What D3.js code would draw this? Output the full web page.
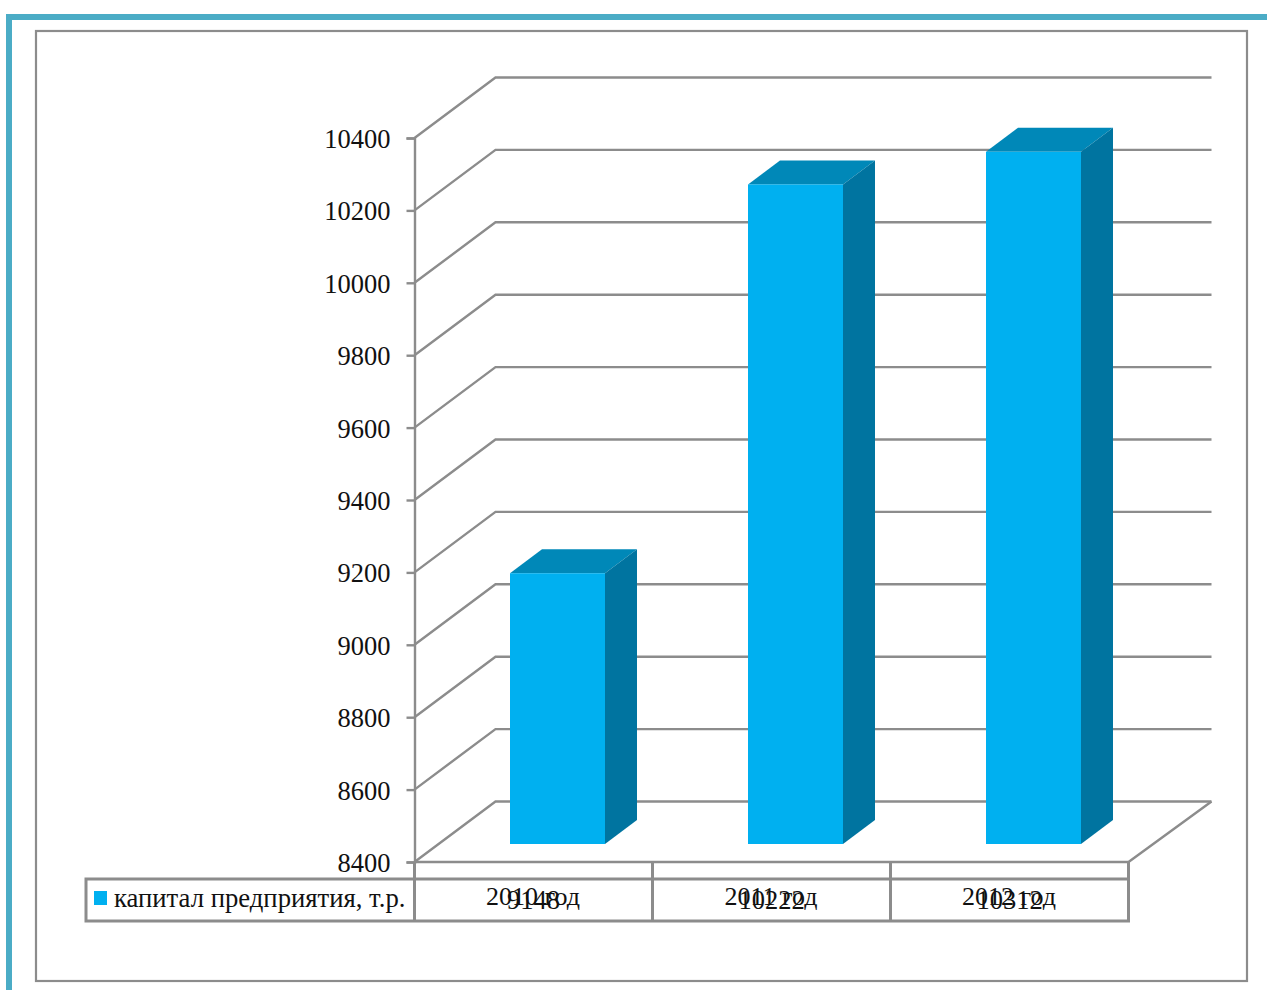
<!DOCTYPE html>
<html lang="ru">
<head>
<meta charset="utf-8">
<title>Капитал предприятия</title>
<script src="https://cdn.jsdelivr.net/npm/d3@7/dist/d3.min.js"></script>
<style>
  html, body { margin: 0; padding: 0; background: #fff; overflow: hidden; }
  svg { display: block; }
  text { font-family: "Liberation Serif", "Times New Roman", serif; fill: #111; }
</style>
</head>
<body>
<svg id="chart" width="1267" height="990"></svg>
<script>
// Chart content
const categories = ["2010 год", "2011 год", "2012 год"];
const capitalValues = [9148, 10222, 10312];
const valueTicks = [8400, 8600, 8800, 9000, 9200, 9400, 9600, 9800, 10000, 10200, 10400];
const seriesName = "капитал предприятия, т.р.";

// Layout and palette
const W = 1267, H = 990;
const plot = { left: 414.5, right: 1128.5, top: 138, bottom: 862 };
const wallDepth = { dx: 81, dy: -60.5 };   // offset of the back wall from the front plane
const barInset = { dx: 24, dy: -18 };      // bar front face relative to the front plane
const barDepth = { dx: 32, dy: -24 };      // extrusion of each bar
const barWidth = 95;
const table = { left: 86, top: 879, bottom: 921 };
const LINE = "#8c8c8c";
const FRONT = "#00b0f0", TOP = "#0088b8", SIDE = "#0074a0";

const svg = d3.select("#chart");
const y = d3.scaleLinear().domain([8400, 10400]).range([plot.bottom, plot.top]);
const x = d3.scaleBand().domain(categories).range([plot.left, plot.right]);
const poly = pts => pts.map(p => p.join(",")).join(" ");

// Page frame and chart border
svg.append("path")
  .attr("d", `M${W},17 H9 V${H}`)
  .attr("fill", "none").attr("stroke", "#4bacc6").attr("stroke-width", 6);
svg.append("rect")
  .attr("x", 36).attr("y", 31).attr("width", 1211).attr("height", 950)
  .attr("fill", "#fff").attr("stroke", LINE).attr("stroke-width", 2.2);

// Walls: one bent line per tick, running from the front plane to the back wall
svg.append("g").selectAll("polyline").data(valueTicks).join("polyline")
  .attr("points", d => poly([
    [plot.left, y(d)],
    [plot.left + wallDepth.dx, y(d) + wallDepth.dy],
    [plot.right + wallDepth.dx + 2, y(d) + wallDepth.dy]
  ]))
  .attr("fill", "none").attr("stroke", LINE).attr("stroke-width", 2.4);

// Front and right edges of the floor
svg.append("polyline")
  .attr("points", poly([
    [plot.left, y(8400)], [plot.right, y(8400)],
    [plot.right + wallDepth.dx + 2, y(8400) + wallDepth.dy]
  ]))
  .attr("fill", "none").attr("stroke", LINE).attr("stroke-width", 2.4);

// Value axis
const axis = d3.axisLeft(y).tickValues(valueTicks).tickFormat(d3.format("d")).tickSize(8).tickPadding(16);
const axisG = svg.append("g").attr("transform", `translate(${plot.left},0)`).call(axis);
axisG.selectAll("line, path").attr("stroke", LINE).attr("stroke-width", 2.4);
axisG.selectAll("text").attr("font-size", 26.5).attr("dy", "0.36em")
  .style("font-family", '"Liberation Serif", serif').attr("fill", "#111");

// Extruded bars
const bars = svg.append("g").selectAll("g")
  .data(categories.map((c, i) => ({ c, v: capitalValues[i] })))
  .join("g")
  .attr("transform", d =>
    `translate(${x(d.c) + (x.bandwidth() - barWidth) / 2 + barInset.dx},${barInset.dy})`);

bars.append("polygon").attr("fill", TOP).attr("points", d => poly([
  [0, y(d.v)], [barWidth, y(d.v)],
  [barWidth + barDepth.dx, y(d.v) + barDepth.dy], [barDepth.dx, y(d.v) + barDepth.dy]
]));
bars.append("polygon").attr("fill", SIDE).attr("points", d => poly([
  [barWidth, y(d.v)], [barWidth + barDepth.dx, y(d.v) + barDepth.dy],
  [barWidth + barDepth.dx, y(8400) + barDepth.dy], [barWidth, y(8400)]
]));
bars.append("rect").attr("fill", FRONT)
  .attr("x", 0).attr("y", d => y(d.v))
  .attr("width", barWidth).attr("height", d => y(8400) - y(d.v));

// Data table under the plot
const tableG = svg.append("g").attr("stroke", LINE).attr("stroke-width", 3).attr("fill", "none");
tableG.append("rect")
  .attr("x", table.left).attr("y", table.top)
  .attr("width", plot.right - table.left).attr("height", table.bottom - table.top);
tableG.selectAll("line.sep").data([plot.left, ...categories.map(c => x(c) + x.bandwidth())]).join("line")
  .attr("class", "sep")
  .attr("x1", d => d).attr("x2", d => d)
  .attr("y1", plot.bottom).attr("y2", table.bottom);

// Legend key and series name
svg.append("rect").attr("x", 94).attr("y", 891).attr("width", 13).attr("height", 14).attr("fill", FRONT);
svg.append("text").attr("x", 114).attr("y", 907).attr("font-size", 26.7).text(seriesName);

// Category names and values share the same cells and overprint each other
svg.append("g").selectAll("text").data(categories).join("text")
  .attr("x", d => x(d) + x.bandwidth() / 2 - 0.5)
  .attr("y", 905).attr("text-anchor", "middle").attr("font-size", 26)
  .text(d => d);
svg.append("g").selectAll("text").data(capitalValues).join("text")
  .attr("x", (d, i) => x(categories[i]) + x.bandwidth() / 2)
  .attr("y", 909).attr("text-anchor", "middle").attr("font-size", 26.5)
  .text(d => d);
</script>
</body>
</html>
